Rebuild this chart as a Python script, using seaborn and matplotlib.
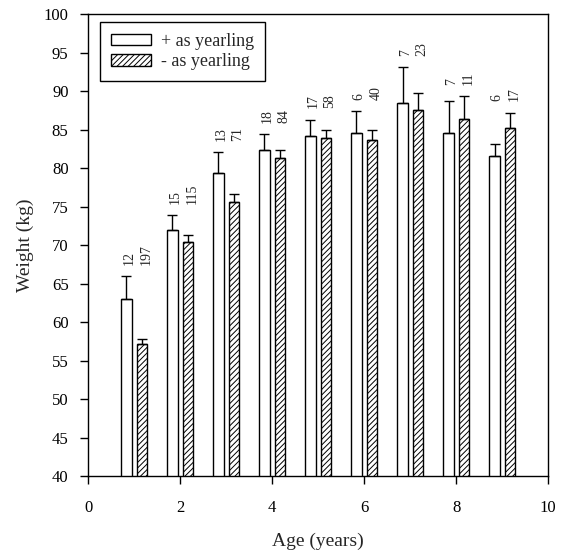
import numpy as np
import pandas as pd
import seaborn as sns
import matplotlib.pyplot as plt
from matplotlib.patches import Patch

# %% data
ages = [1, 2, 3, 4, 5, 6, 7, 8, 9]
plus_mean = [63.0, 71.9, 79.4, 82.4, 84.2, 84.6, 88.5, 84.5, 81.5]
plus_se = [3.0, 2.0, 2.7, 2.0, 2.1, 2.8, 4.6, 4.2, 1.6]
plus_n = [12, 15, 13, 18, 17, 6, 7, 7, 6]
minus_mean = [57.1, 70.4, 75.6, 81.3, 83.9, 83.6, 87.6, 86.4, 85.2]
minus_se = [0.65, 0.9, 1.0, 1.1, 1.0, 1.4, 2.1, 2.9, 2.0]
minus_n = [197, 115, 71, 84, 58, 40, 23, 11, 17]

# %% style
sns.set_style('ticks')
plt.rcParams['font.family'] = ['Liberation Serif', 'DejaVu Serif']
plt.rcParams['hatch.linewidth'] = 0.7

shift = 0.165
width = 0.22
plus_df = pd.DataFrame({'x': np.array(ages) - shift, 'w': plus_mean})
minus_df = pd.DataFrame({'x': np.array(ages) + shift, 'w': minus_mean})

fig = plt.figure(figsize=(5.68, 5.5), dpi=100)
ax = fig.add_axes([0.155, 0.1345, 0.81, 0.84])

sns.barplot(data=plus_df, x='x', y='w', native_scale=True, width=width,
            color='white', edgecolor='black', linewidth=1, errorbar=None,
            saturation=1, ax=ax)
sns.barplot(data=minus_df, x='x', y='w', native_scale=True, width=width,
            color='white', edgecolor='black', linewidth=1, errorbar=None,
            saturation=1, hatch='//////', ax=ax)

# one-sided error bars
ax.errorbar(plus_df['x'], plus_mean, yerr=[np.zeros(9), plus_se], fmt='none',
            ecolor='black', elinewidth=1, capsize=3.5, capthick=1)
ax.errorbar(minus_df['x'], minus_mean, yerr=[np.zeros(9), minus_se], fmt='none',
            ecolor='black', elinewidth=1, capsize=3.5, capthick=1)

# sample sizes above each pair
for a, pm, ps, pn, mm, ms, mn in zip(ages, plus_mean, plus_se, plus_n,
                                     minus_mean, minus_se, minus_n):
    top = max(pm + ps, mm + ms)
    ax.annotate(str(pn), (a, top), xytext=(-3.5, 8), textcoords='offset points',
                rotation=90, ha='center', va='bottom', fontsize=10)
    ax.annotate(str(mn), (a, top), xytext=(8.5, 8), textcoords='offset points',
                rotation=90, ha='center', va='bottom', fontsize=10)

ax.set_xlim(0, 10)
ax.set_ylim(40, 100)
ax.set_xticks([0, 2, 4, 6, 8, 10])
ax.set_xticklabels(['0', '2', '4', '6', '8', '10'])
ax.set_yticks(range(40, 101, 5))
ax.tick_params(direction='out', length=6, width=1, labelsize=12,
               colors='black')
ax.tick_params(axis='x', pad=11)
ax.tick_params(axis='y', pad=8)
for s in ax.spines.values():
    s.set_visible(True)
    s.set_color('black')
    s.set_linewidth(1)

ax.set_xlabel('Age (years)', fontsize=14, labelpad=12)
ax.set_ylabel('Weight (kg)', fontsize=14, labelpad=7)

handles = [Patch(facecolor='white', edgecolor='black', linewidth=1),
           Patch(facecolor='white', edgecolor='black', linewidth=1, hatch='//////')]
leg = ax.legend(handles, ['+ as yearling', '- as yearling'], loc='upper left',
                bbox_to_anchor=(0.026, 0.983), borderaxespad=0, fancybox=False,
                edgecolor='black', framealpha=1, fontsize=13, handlelength=2.2,
                handleheight=0.6, handletextpad=0.6, labelspacing=0.2,
                borderpad=0.6)
leg.get_frame().set_linewidth(1)

fig.savefig('out.png', dpi=100)
